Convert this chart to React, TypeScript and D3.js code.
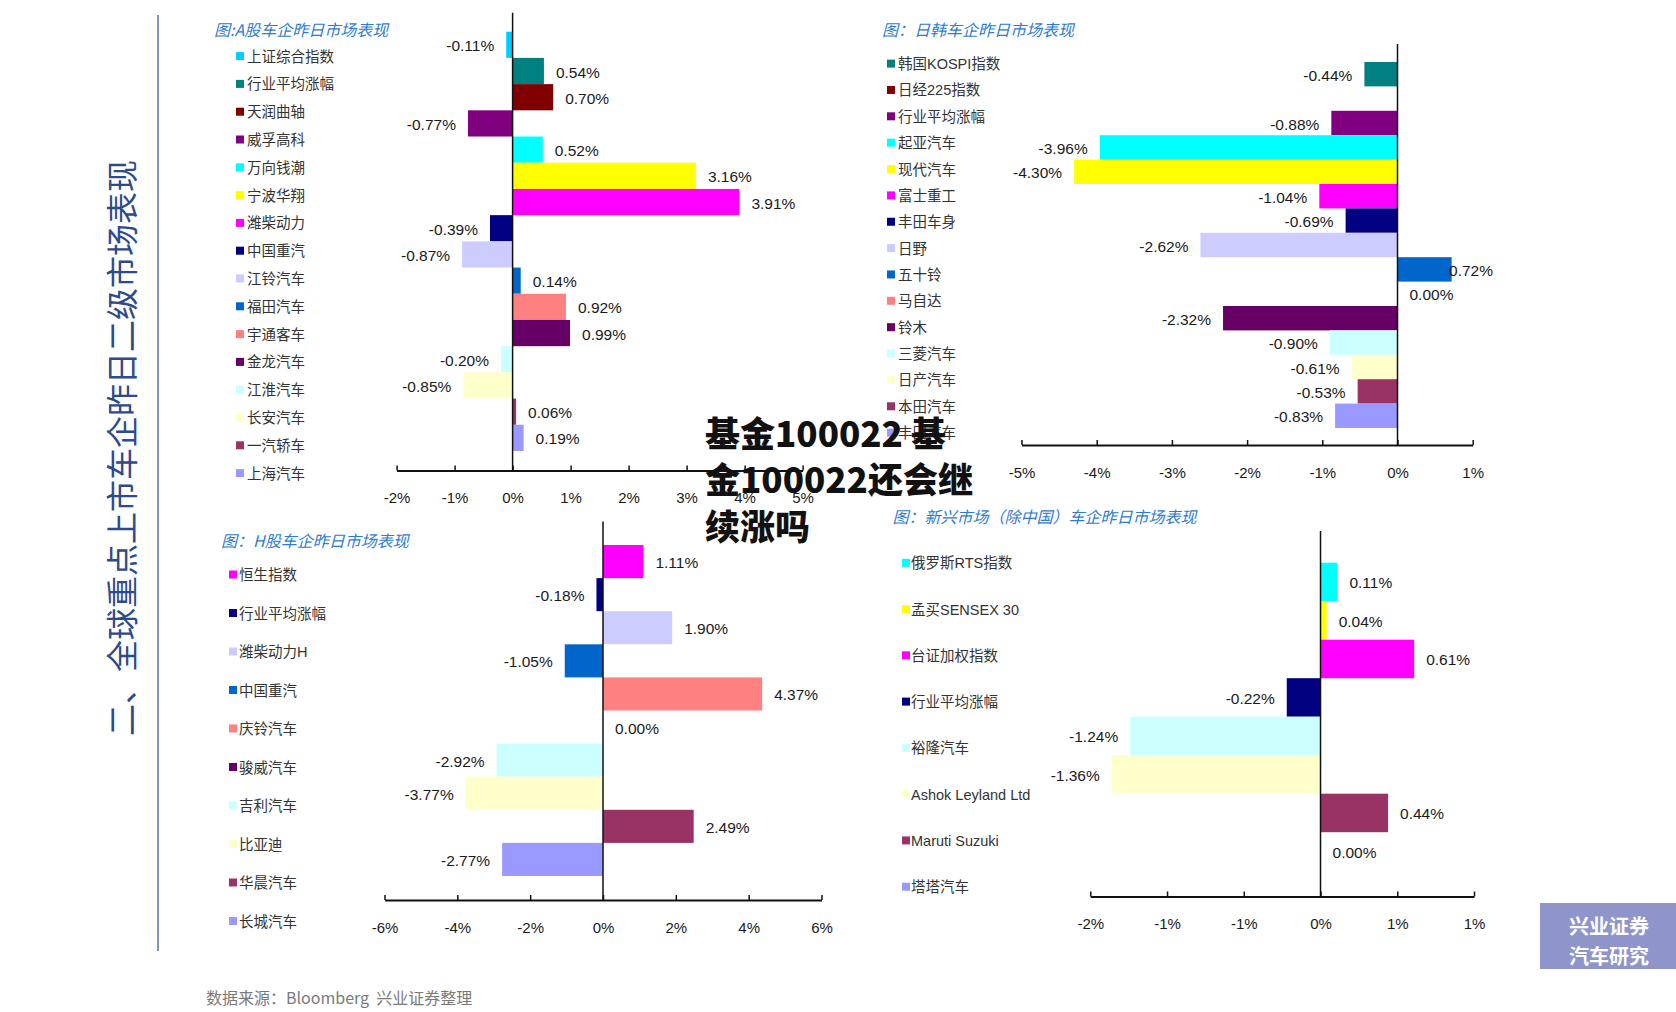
import React, { useRef, useEffect } from "react";
import * as d3 from "d3";

// A股
const aNames = ["上证综合指数", "行业平均涨幅", "天润曲轴", "威孚高科", "万向钱潮", "宁波华翔", "潍柴动力", "中国重汽",
  "江铃汽车", "福田汽车", "宇通客车", "金龙汽车", "江淮汽车", "长安汽车", "一汽轿车", "上海汽车"];
const aValues = [-0.11, 0.54, 0.7, -0.77, 0.52, 3.16, 3.91, -0.39, -0.87, 0.14, 0.92, 0.99, -0.2, -0.85, 0.06, 0.19];
const aColors = ["#00CCFF", "#008080", "#800000", "#800080", "#00FFFF", "#FFFF00", "#FF00FF", "#000080",
  "#CCCCFF", "#0066CC", "#FF8080", "#660066", "#CCFFFF", "#FFFFCC", "#993366", "#9999FF"];
const aTicks = [-2, -1, 0, 1, 2, 3, 4, 5];

// 日韩
const jkNames = ["韩国KOSPI指数", "日经225指数", "行业平均涨幅", "起亚汽车", "现代汽车", "富士重工", "丰田车身", "日野",
  "五十铃", "马自达", "铃木", "三菱汽车", "日产汽车", "本田汽车", "丰田汽车"];
const jkValues = [-0.44, null, -0.88, -3.96, -4.3, -1.04, -0.69, -2.62, 0.72, 0.0, -2.32, -0.9, -0.61, -0.53, -0.83];
const jkColors = ["#008080", "#800000", "#800080", "#00FFFF", "#FFFF00", "#FF00FF", "#000080", "#CCCCFF",
  "#0066CC", "#FF8080", "#660066", "#CCFFFF", "#FFFFCC", "#993366", "#9999FF"];
const jkTicks = [-5, -4, -3, -2, -1, 0, 1];

// H股
const hNames = ["恒生指数", "行业平均涨幅", "潍柴动力H", "中国重汽", "庆铃汽车", "骏威汽车", "吉利汽车", "比亚迪", "华晨汽车", "长城汽车"];
const hValues = [1.11, -0.18, 1.9, -1.05, 4.37, 0.0, -2.92, -3.77, 2.49, -2.77];
const hColors = ["#FF00FF", "#000080", "#CCCCFF", "#0066CC", "#FF8080", "#660066", "#CCFFFF", "#FFFFCC", "#993366", "#9999FF"];
const hTicks = [-6, -4, -2, 0, 2, 4, 6];

// 新兴市场
const emNames = ["俄罗斯RTS指数", "孟买SENSEX 30", "台证加权指数", "行业平均涨幅", "裕隆汽车", "Ashok Leyland Ltd", "Maruti Suzuki", "塔塔汽车"];
const emValues = [0.11, 0.04, 0.61, -0.22, -1.24, -1.36, 0.44, 0.0];
const emColors = ["#00FFFF", "#FFFF00", "#FF00FF", "#000080", "#CCFFFF", "#FFFFCC", "#993366", "#9999FF"];
const emTicks = [-1.5, -1, -0.5, 0, 0.5, 1];

const FONT = "'Liberation Sans', Arial, 'Noto Sans CJK SC', sans-serif";
const CJK = "'Noto Sans CJK SC', 'Liberation Sans', sans-serif";

const panels = [
  {
    title: "图:A股车企昨日市场表现", names: aNames, values: aValues, colors: aColors, ticks: aTicks,
    domain: [-2, 5], xRange: [396.6, 802.6], band: [31.7, 451], axisY: 470.5, axisTop: 12.8,
    legendMarkX: 236, legendTextX: 247, legendY0: 56.6, legendStep: 27.8, titleX: 214, titleY: 29,
  },
  {
    title: "图：日韩车企昨日市场表现", names: jkNames, values: jkValues, colors: jkColors, ticks: jkTicks,
    domain: [-5, 1], xRange: [1021.5, 1472.7], band: [62, 428], axisY: 445, axisTop: 44,
    legendMarkX: 887, legendTextX: 898, legendY0: 64.1, legendStep: 26.36, titleX: 882, titleY: 29,
    labelMaxX: 1493,
  },
  {
    title: "图：H股车企昨日市场表现", names: hNames, values: hValues, colors: hColors, ticks: hTicks,
    domain: [-6, 6], xRange: [384.5, 821.5], band: [545, 876], axisY: 900, axisTop: 521.6,
    legendMarkX: 229, legendTextX: 239, legendY0: 575, legendStep: 38.5, titleX: 221, titleY: 540,
  },
  {
    title: "图：新兴市场（除中国）车企昨日市场表现", names: emNames, values: emValues, colors: emColors, ticks: emTicks,
    domain: [-1.5, 1], xRange: [1090.3, 1474], band: [562.7, 870.7], axisY: 896.5, axisTop: 531,
    legendMarkX: 902, legendTextX: 911, legendY0: 563.3, legendStep: 46.27, titleX: 892.5, titleY: 516.3,
  },
];

const canvas = typeof document !== "undefined" ? document.createElement("canvas") : null;
function textWidth(text, font) {
  if (!canvas) return text.length * 8;
  const ctx = canvas.getContext("2d");
  ctx.font = font;
  return ctx.measureText(text).width;
}

// Excel style "0%" rounding (half away from zero)
const pctTick = (d) => (d === 0 ? "0%" : `${d < 0 ? "-" : ""}${Math.round(Math.abs(d))}%`);

function drawPanel(svg, p) {
  const x = d3.scaleLinear().domain(p.domain).range(p.xRange);
  const y = d3.scaleBand().domain(p.names).range(p.band).padding(0);
  const data = p.names.map((name, i) => ({ name, value: p.values[i], color: p.colors[i] }));
  const g = svg.append("g");

  g.append("text")
    .attr("x", p.titleX)
    .attr("y", p.titleY)
    .attr("dominant-baseline", "central")
    .attr("font-style", "italic")
    .attr("font-family", CJK)
    .attr("fill", "#2E7BD0")
    .style("font-size", "16px")
    .text(p.title);

  // legend
  const leg = g.selectAll(".legend").data(data).join("g").attr("class", "legend")
    .attr("transform", (d, i) => `translate(0, ${p.legendY0 + i * p.legendStep})`);
  leg.append("rect")
    .attr("x", p.legendMarkX)
    .attr("y", -4.5)
    .attr("width", 8)
    .attr("height", 8)
    .attr("fill", (d) => d.color);
  leg.append("text")
    .attr("x", p.legendTextX)
    .attr("y", 0)
    .attr("dominant-baseline", "central")
    .attr("font-family", FONT)
    .attr("fill", "#333")
    .style("font-size", "14.5px")
    .text((d) => d.name);

  const valid = data.filter((d) => d.value !== null);

  g.selectAll(".bar").data(valid).join("rect").attr("class", "bar")
    .attr("x", (d) => x(Math.min(0, d.value)))
    .attr("y", (d) => y(d.name))
    .attr("width", (d) => Math.abs(x(d.value) - x(0)))
    .attr("height", y.bandwidth())
    .attr("fill", (d) => d.color);

  const labelFont = `15.5px ${FONT}`;
  g.selectAll(".val").data(valid).join("text").attr("class", "val")
    .attr("x", (d) => {
      const label = `${d.value.toFixed(2)}%`;
      if (d.value < 0) return x(d.value) - 12;
      let sx = x(d.value) + 12;
      const w = textWidth(label, labelFont);
      if (p.labelMaxX && sx + w > p.labelMaxX) sx = p.labelMaxX - w;
      return sx;
    })
    .attr("y", (d) => y(d.name) + y.bandwidth() / 2 + 1)
    .attr("text-anchor", (d) => (d.value < 0 ? "end" : "start"))
    .attr("dominant-baseline", "central")
    .attr("font-family", FONT)
    .attr("fill", "#1a1a1a")
    .style("font-size", "15.5px")
    .text((d) => `${d.value.toFixed(2)}%`);

  // zero line
  g.append("line")
    .attr("x1", x(0)).attr("x2", x(0))
    .attr("y1", p.axisTop).attr("y2", p.axisY)
    .attr("stroke", "#111")
    .attr("stroke-width", 1.5);

  const axis = d3.axisBottom(x).tickValues(p.ticks).tickFormat(pctTick)
    .tickSizeInner(-5).tickSizeOuter(0).tickPadding(22);
  const ax = g.append("g").attr("transform", `translate(0, ${p.axisY})`).call(axis);
  ax.select(".domain").attr("stroke", "#111").attr("stroke-width", 2);
  ax.selectAll(".tick line").attr("stroke", "#111").attr("stroke-width", 1.5);
  ax.selectAll(".tick text")
    .attr("fill", "#1a1a1a")
    .attr("font-family", FONT)
    .style("font-size", "15px");
}

function App() {
  const svgRef = useRef(null);

  useEffect(() => {
    document.body.style.margin = "0";
    document.body.style.overflow = "hidden";
    const svg = d3.select(svgRef.current);
    svg.selectAll("*").remove();

    svg.append("rect").attr("width", 1676).attr("height", 1012).attr("fill", "#fff");

    // page side title and divider
    svg.append("line")
      .attr("x1", 158).attr("x2", 158).attr("y1", 15).attr("y2", 951)
      .attr("stroke", "#5A6EA8").attr("stroke-width", 1.5);
    svg.append("text")
      .attr("transform", "translate(120, 448) rotate(-90)")
      .attr("text-anchor", "middle")
      .attr("dominant-baseline", "central")
      .attr("font-family", CJK)
      .attr("fill", "#2D4A8A")
      .style("font-size", "32px")
      .text("二、全球重点上市车企昨日二级市场表现");

    panels.forEach((p) => drawPanel(svg, p));

    // footer
    svg.append("text")
      .attr("x", 206).attr("y", 997)
      .attr("dominant-baseline", "central")
      .attr("font-family", CJK)
      .attr("fill", "#7a7a7a")
      .attr("xml:space", "preserve")
      .style("font-size", "16px")
      .style("white-space", "pre")
      .text("数据来源：Bloomberg  兴业证券整理");

    // logo box
    svg.append("rect").attr("x", 1540).attr("y", 903).attr("width", 136).attr("height", 66).attr("fill", "#8F95CB");
    ["兴业证券", "汽车研究"].forEach((t, i) => {
      svg.append("text")
        .attr("x", 1609).attr("y", 925 + i * 30)
        .attr("text-anchor", "middle")
        .attr("dominant-baseline", "central")
        .attr("font-family", CJK)
        .attr("font-weight", 700)
        .attr("fill", "#fff")
        .style("font-size", "20px")
        .text(t);
    });

    // overlay headline
    ["基金100022 基", "金100022还会继", "续涨吗"].forEach((t, i) => {
      svg.append("text")
        .attr("x", 705).attr("y", 431 + i * 46.5)
        .attr("dominant-baseline", "central")
        .attr("font-family", CJK)
        .attr("font-weight", 900)
        .attr("fill", "#111")
        .style("font-size", "35px")
        .style("white-space", "pre")
        .text(t);
    });
  }, []);

  return <svg ref={svgRef} width={1676} height={1012} style={{ display: "block" }} />;
}

export default App;
